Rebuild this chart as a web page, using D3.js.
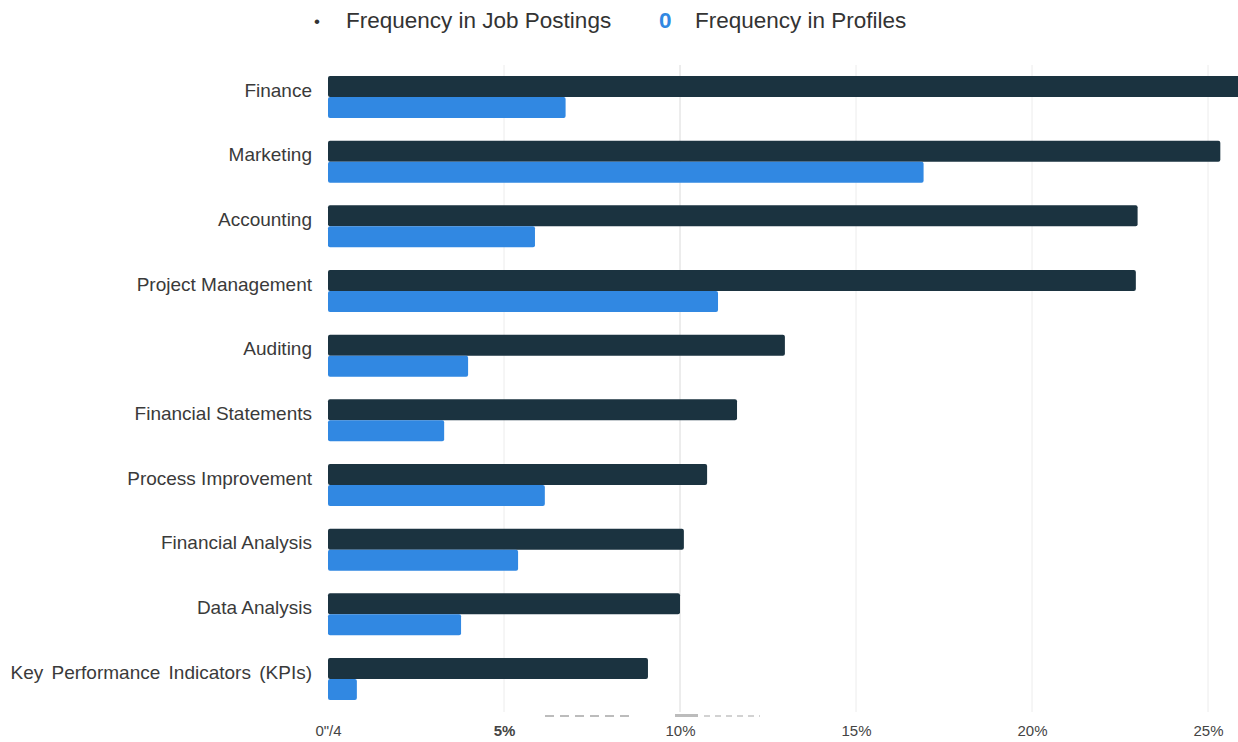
<!DOCTYPE html>
<html><head><meta charset="utf-8">
<script src="https://cdn.jsdelivr.net/npm/d3@7"></script>
<style>
html,body{margin:0;padding:0;background:#fff;}
svg{display:block;font-family:"Liberation Sans",Arial,sans-serif;}
</style></head>
<body>
<svg id="chart" width="1238" height="742"></svg>
<script>
const categories = ["Finance","Marketing","Accounting","Project Management","Auditing","Financial Statements","Process Improvement","Financial Analysis","Data Analysis","Key Performance Indicators (KPIs)"];
const jobPostings = [26.0,25.35,23.0,22.95,12.98,11.62,10.77,10.11,10.0,9.09];
const profiles = [6.75,16.92,5.88,11.08,3.98,3.3,6.16,5.4,3.78,0.82];
const seriesNames = ["Frequency in Job Postings","Frequency in Profiles"];
const tickValues = [0,5,10,15,20,25];
const tickLabels = ["0\"/4","5%","10%","15%","20%","25%"];

const colors = ["#1b3340","#3188e2"];
const svg = d3.select("#chart");

const x = d3.scaleLinear().domain([0,25]).range([328,1208]);
const y = d3.scaleBand().domain(categories).range([65, 65+10*64.67]).padding(0);
const sub = d3.scaleBand().domain(seriesNames).range([11,53]).padding(0);

// gridlines
svg.append("g").selectAll("line").data(tickValues.slice(1)).join("line")
  .attr("x1",d=>x(d)).attr("x2",d=>x(d))
  .attr("y1",65).attr("y2",712)
  .attr("stroke",d=>d===10?"#dadada":"#ececec").attr("stroke-width",1);

// bars
const data = [jobPostings, profiles];
const groups = svg.append("g").selectAll("g").data(categories).join("g")
  .attr("transform",c=>`translate(0,${y(c)})`);
groups.selectAll("rect").data((c,i)=>seriesNames.map((s,k)=>({s,v:data[k][i],k}))).join("rect")
  .attr("x",x(0)).attr("y",d=>sub(d.s))
  .attr("width",d=>x(d.v)-x(0)).attr("height",sub.bandwidth())
  .attr("rx",2).attr("fill",d=>colors[d.k]);

// category labels
svg.append("g").selectAll("text").data(categories).join("text")
  .attr("x",312).attr("y",c=>y(c)+25).attr("dy","0.35em")
  .attr("text-anchor","end").attr("font-size",19).attr("fill","#3a3a3a")
  .attr("word-spacing",d=>d.startsWith("Key")?"3px":"0px")
  .text(c=>c);

// x axis
const ax = svg.append("g").attr("transform","translate(0,716)")
  .call(d3.axisBottom(x).tickValues(tickValues).tickFormat((d,i)=>tickLabels[i]).tickSize(0).tickPadding(9));
ax.select(".domain").remove();
ax.selectAll("text").attr("font-size",15).attr("fill","#444")
  .attr("font-family","'Liberation Sans Narrow','Liberation Sans',Arial,sans-serif")
  .attr("font-weight",(d,i)=>i===1?"bold":"normal");

// scan artifacts (dashed strokes near axis)
svg.append("line").attr("x1",545).attr("x2",630).attr("y1",716).attr("y2",716)
  .attr("stroke","#bcbcbc").attr("stroke-width",2).attr("stroke-dasharray","9,6");
svg.append("line").attr("x1",675).attr("x2",698).attr("y1",715.5).attr("y2",715.5)
  .attr("stroke","#bcbcbc").attr("stroke-width",3);
svg.append("line").attr("x1",704).attr("x2",760).attr("y1",716).attr("y2",716)
  .attr("stroke","#c4c4c4").attr("stroke-width",1.5).attr("stroke-dasharray","6,5");

// legend
const lg = svg.append("g").attr("font-size",22.5).attr("fill","#333");
lg.append("text").attr("x",314).attr("y",27).attr("font-size",17).text("•");
lg.append("text").attr("x",346).attr("y",28).text(seriesNames[0]);
lg.append("text").attr("x",659).attr("y",28).attr("fill",colors[1]).attr("font-weight","bold").text("0");
lg.append("text").attr("x",695).attr("y",28).text(seriesNames[1]);
</script>
</body></html>
